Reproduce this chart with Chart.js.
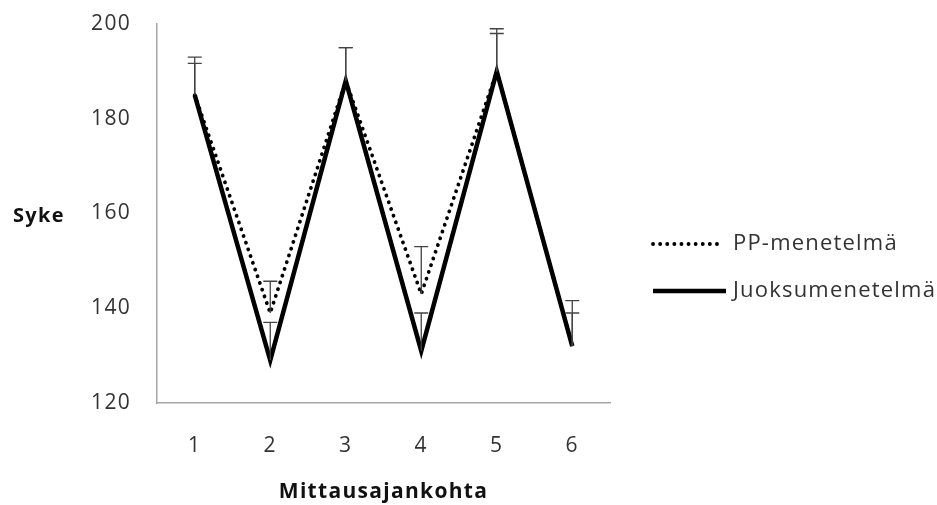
<!DOCTYPE html>
<html>
<head>
<meta charset="utf-8">
<script src="https://cdn.jsdelivr.net/npm/chart.js@4"></script>
<style>
  html, body { margin: 0; padding: 0; background: #fff; }
  #wrap { width: 937px; height: 505px; }
</style>
</head>
<body>
<div id="wrap"><canvas id="sykeChart" width="937" height="505"></canvas></div>
<script>
const labels = ["1", "2", "3", "4", "5", "6"];
const ppValues = [185, 139, 188, 143, 190, 132];
const juoksuValues = [185, 129, 188, 131, 190, 132];
// upper half of the error bars (sd)
const ppErr = [8, 6.7, 7, 10, 9, 9.6];
const juoksuErr = [6.7, 8, 7, 8, 8, 7];
const yTicks = [120, 140, 160, 180, 200];

const FONT = "'Open Sans', 'Noto Sans', sans-serif";
const TEXT = "#333";
const SPACING = "1.3px";

// wider text, canvas resets this whenever it is resized
const textSpacing = {
    id: "textSpacing",
    beforeLayout(chart) { chart.ctx.letterSpacing = SPACING; },
    beforeDraw(chart) { chart.ctx.letterSpacing = SPACING; }
};

// upward error bars, drawn through the y scale
const errorBars = {
    id: "errorBars",
    afterDatasetsDraw(chart) {
        const ctx = chart.ctx;
        const y = chart.scales.y;
        const errs = [ppErr, juoksuErr];
        ctx.save();
        ctx.strokeStyle = "#444";
        ctx.lineWidth = 1.3;
        chart.data.datasets.forEach((ds, di) => {
            const meta = chart.getDatasetMeta(di);
            meta.data.forEach((pt, i) => {
                const x = pt.x;
                const y0 = y.getPixelForValue(ds.data[i]);
                const y1 = y.getPixelForValue(ds.data[i] + errs[di][i]);
                ctx.beginPath();
                ctx.moveTo(x, y0);
                ctx.lineTo(x, y1);
                ctx.moveTo(x - 7, y1);
                ctx.lineTo(x + 7, y1);
                ctx.stroke();
            });
        });
        ctx.restore();
    }
};

// legend on the right and the horizontal "Syke" title
const sideText = {
    id: "sideText",
    afterDraw(chart) {
        const ctx = chart.ctx;
        ctx.save();
        ctx.fillStyle = "#111";
        ctx.font = "bold 20px " + FONT;
        ctx.textAlign = "left";
        ctx.textBaseline = "middle";
        ctx.fillText("Syke", 13, 216);

        const items = [
            { text: "PP-menetelmä", ds: chart.data.datasets[0], y: 244 },
            { text: "Juoksumenetelmä", ds: chart.data.datasets[1], y: 291 }
        ];
        items.forEach(it => {
            ctx.beginPath();
            ctx.strokeStyle = "#000";
            ctx.lineWidth = it.ds.borderWidth;
            ctx.lineCap = it.ds.borderDash ? "round" : "butt";
            ctx.setLineDash(it.ds.borderDash || []);
            ctx.moveTo(653, it.y);
            ctx.lineTo(it.ds.borderDash ? 717 : 726, it.y);
            ctx.stroke();
            ctx.setLineDash([]);
            ctx.fillStyle = TEXT;
            ctx.font = "22px " + FONT;
            ctx.letterSpacing = "1.2px";
            ctx.fillText(it.text, 733, it.y);
        });
        ctx.restore();
    }
};

new Chart(document.getElementById("sykeChart"), {
    type: "line",
    data: {
        labels,
        datasets: [
            {
                label: "PP-menetelmä",
                data: ppValues,
                borderColor: "#000",
                borderWidth: 3.8,
                borderDash: [0.1, 7],
                borderCapStyle: "round",
                pointRadius: 0,
                tension: 0,
                fill: false
            },
            {
                label: "Juoksumenetelmä",
                data: juoksuValues,
                borderColor: "#000",
                borderWidth: 4.5,
                borderJoinStyle: "miter",
                pointRadius: 0,
                tension: 0,
                fill: false
            }
        ]
    },
    options: {
        responsive: false,
        animation: false,
        layout: { padding: { top: 24, right: 327, left: 0, bottom: 0 } },
        plugins: {
            legend: { display: false },
            tooltip: { enabled: false }
        },
        scales: {
            x: {
                offset: true,
                afterFit(scale) { scale.height = 102; },
                grid: { display: false },
                border: { display: true, color: "#a6a6a6", width: 1.5 },
                ticks: {
                    color: TEXT,
                    font: { family: FONT, size: 21 },
                    padding: 22
                },
                title: {
                    display: true,
                    text: "Mittausajankohta",
                    color: "#111",
                    font: { family: FONT, size: 21, weight: "bold" },
                    padding: { top: 0, bottom: 0 }
                }
            },
            y: {
                min: 120,
                max: 200,
                afterFit(scale) {
                    scale.width = 157;
                    scale.paddingTop = 0;
                    scale.paddingBottom = 0;
                },
                afterBuildTicks(scale) { scale.ticks = yTicks.map(v => ({ value: v })); },
                grid: { display: false },
                border: { display: true, color: "#a6a6a6", width: 1.5 },
                ticks: {
                    color: TEXT,
                    font: { family: FONT, size: 21 },
                    padding: 18
                }
            }
        }
    },
    plugins: [textSpacing, errorBars, sideText]
});
</script>
</body>
</html>
